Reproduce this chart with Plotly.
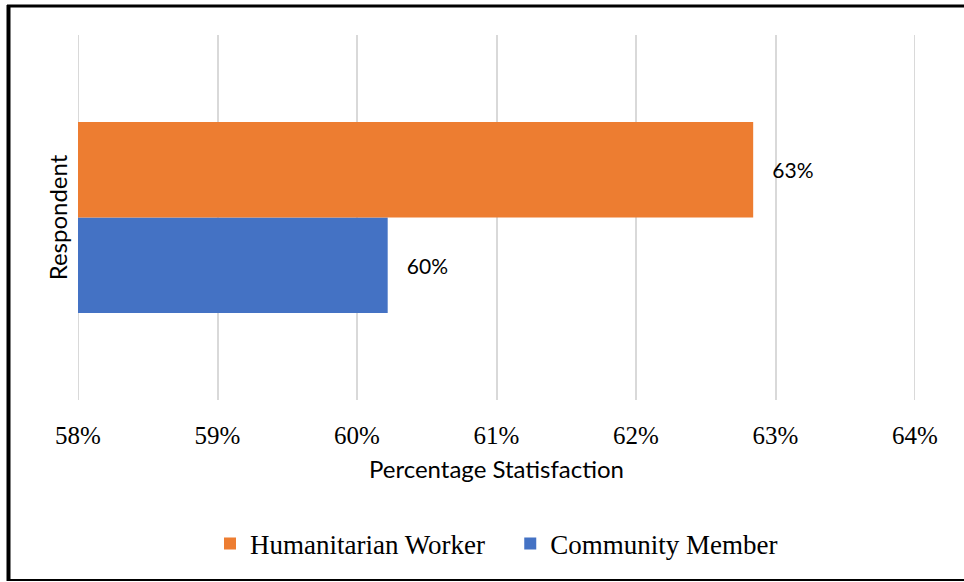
import plotly.graph_objects as go

categories = ["Respondent"]
series_names = ["Humanitarian Worker", "Community Member"]
humanitarian_values = [62.84]
community_values = [60.22]
humanitarian_labels = ["63%"]
community_labels = ["60%"]
x_ticks = [58, 59, 60, 61, 62, 63, 64]
x_tick_labels = ["58%", "59%", "60%", "61%", "62%", "63%", "64%"]

ORANGE = "#ED7D31"
BLUE = "#4472C4"
GRID = "#D9D9D9"
pad = "\u00a0\u00a0\u00a0"
SANS = "Lato, Open Sans, sans-serif"
SERIF = "Liberation Serif, Times New Roman, serif"

fig = go.Figure()
fig.add_trace(go.Bar(
    y=categories, x=community_values, orientation="h", name=series_names[1],
    marker=dict(color=BLUE, line=dict(width=0)),
    text=[pad + t for t in community_labels], textposition="outside",
    textfont=dict(family=SANS, size=21, color="#000000"),
    cliponaxis=False, legendrank=2,
))
fig.add_trace(go.Bar(
    y=categories, x=humanitarian_values, orientation="h",
    name=series_names[0] + "\u00a0" * 3,
    marker=dict(color=ORANGE, line=dict(width=0)),
    text=[pad + t for t in humanitarian_labels], textposition="outside",
    textfont=dict(family=SANS, size=21, color="#000000"),
    cliponaxis=False, legendrank=1,
))

W, H = 964, 582
L, R, T, B = 78, 49, 35, 182
pw, ph = W - L - R, H - T - B

def px(xp):
    return (xp - L) / pw

def py(yp):
    return (H - B - yp) / ph

edge_grid = [
    dict(type="line", xref="x", yref="paper", x0=v, x1=v, y0=0, y1=1, layer="below",
         line=dict(color=GRID, width=2))
    for v in (x_ticks[0], x_ticks[-1])
]

fig.update_layout(
    width=W, height=H,
    margin=dict(l=L, r=R, t=T, b=B),
    paper_bgcolor="white", plot_bgcolor="white",
    barmode="group", bargap=0.477, bargroupgap=0,
    showlegend=True,
    legend=dict(orientation="h", x=0.5, xanchor="center", y=py(544), yanchor="middle",
                font=dict(family=SERIF, size=27, color="#000000"),
                itemwidth=30, tracegroupgap=0, bgcolor="rgba(0,0,0,0)"),
    xaxis=dict(range=[x_ticks[0], x_ticks[-1]], tickvals=x_ticks, ticktext=x_tick_labels,
               showgrid=True, gridcolor=GRID, gridwidth=2, zeroline=False,
               showline=False, ticks="", ticklabelstandoff=18,
               tickfont=dict(family=SERIF, size=25, color="#000000"),
               title=dict(text="Percentage Statisfaction", standoff=13,
                          font=dict(family=SANS, size=24, color="#000000"))),
    yaxis=dict(showticklabels=False, showgrid=False, zeroline=False, showline=False, ticks="",
               title=dict(text="Respondent", standoff=2,
                          font=dict(family=SANS, size=24, color="#000000"))),
    shapes=edge_grid + [
        dict(type="line", xref="paper", yref="paper", x0=px(8.5), x1=px(8.5), y0=py(5), y1=py(581),
             line=dict(color="#000000", width=4)),
        dict(type="line", xref="paper", yref="paper", x0=px(7), x1=px(970), y0=py(6), y1=py(6),
             line=dict(color="#000000", width=3)),
        dict(type="line", xref="paper", yref="paper", x0=px(7), x1=px(970), y0=py(580), y1=py(580),
             line=dict(color="#000000", width=2)),
    ],
)

fig.write_html("out.html", config={"displayModeBar": False},
               post_script="document.body.style.margin='0px';document.body.style.overflow='hidden';")
